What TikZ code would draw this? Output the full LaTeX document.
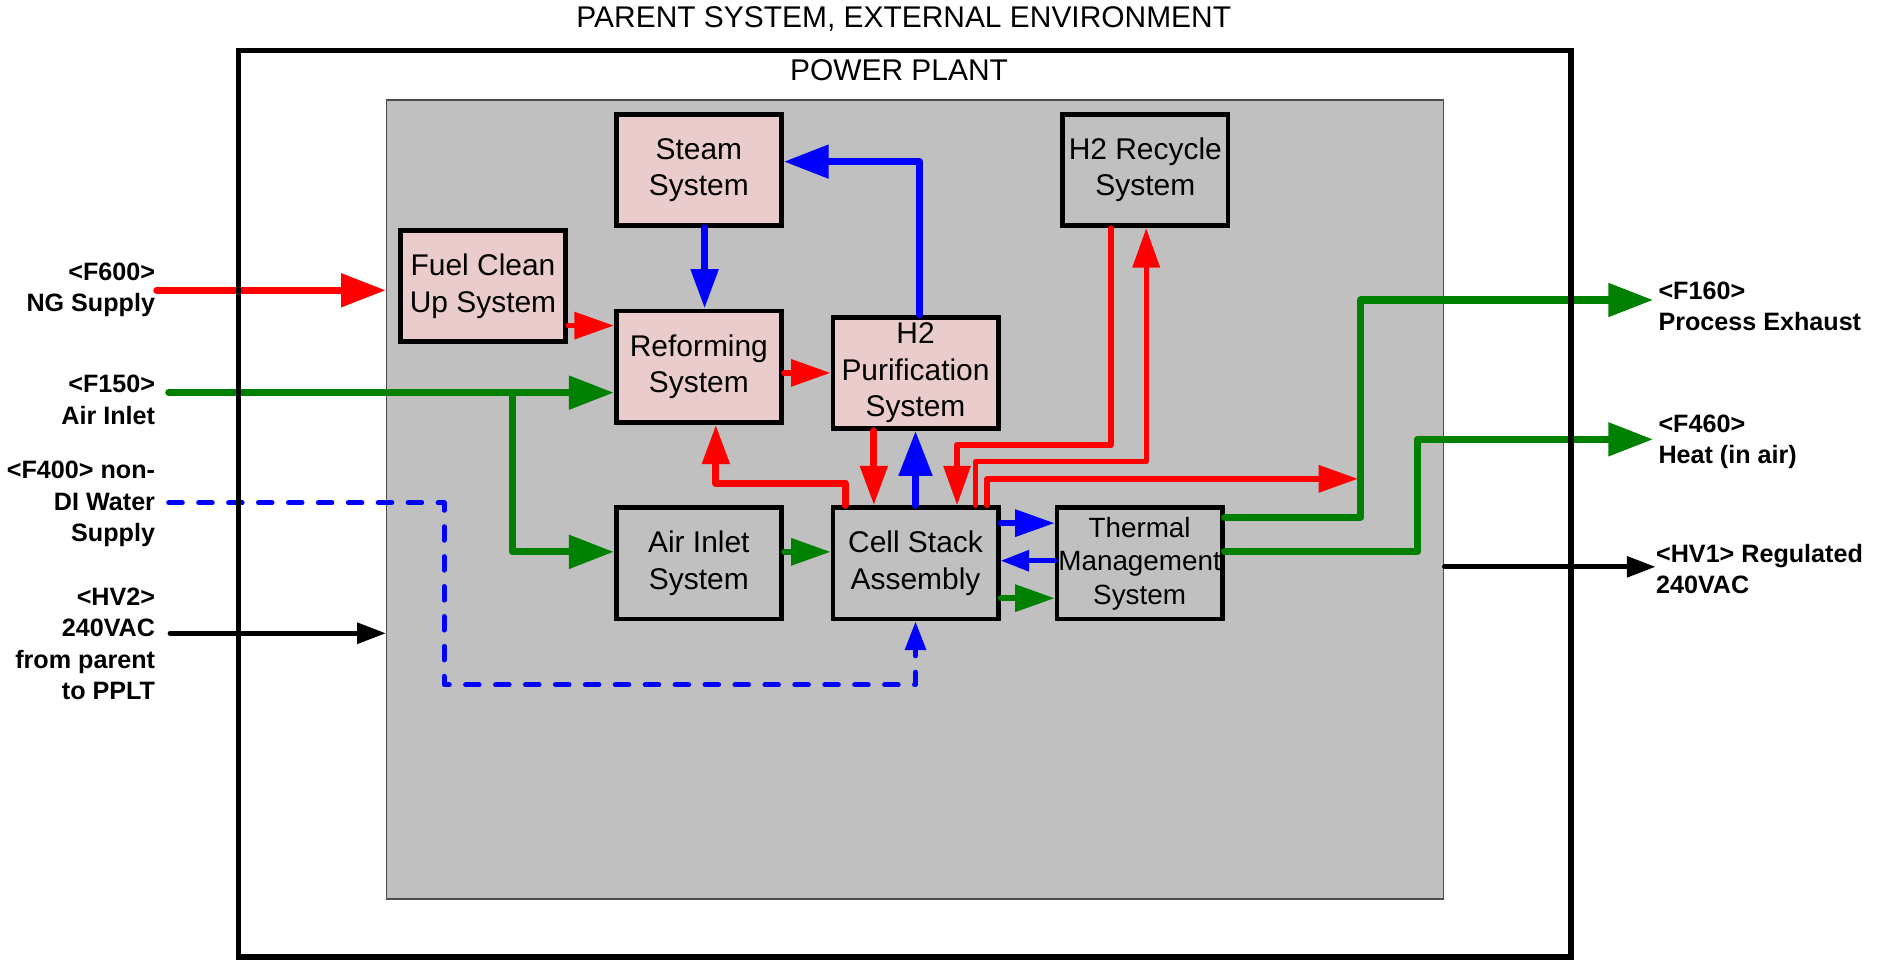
\documentclass[tikz,border=0pt]{standalone}
\usepackage{fontspec}
\setmainfont{Liberation Sans}
\usetikzlibrary{arrows.meta}
\definecolor{pinkfill}{RGB}{235,204,204}
\definecolor{plantgray}{RGB}{192,192,192}
\definecolor{flowgreen}{RGB}{0,128,0}

\begin{document}
\begin{tikzpicture}[x=0.4pt,y=-0.4pt,
    sysbox/.style={draw,line width=1.6pt,minimum width=55.2pt,minimum height=37.2pt,inner sep=0pt,align=center,font=\fontsize{10}{12.2}\selectfont},
    pinkbox/.style={sysbox,fill=pinkfill},
    ext/.style={inner sep=0pt,font=\fontsize{8.4}{10.5}\selectfont\bfseries},
    title/.style={inner sep=0pt,font=\fontsize{10}{12}\selectfont},
    mainflow/.style={line width=2.4pt,line cap=round,line join=round},
    subflow/.style={line width=1.8pt,line cap=round,line join=round},
    waterflow/.style={blue,line width=1.7pt,line cap=round,line join=round,dash pattern=on 4.5pt off 5.5pt},
    power/.style={black,line width=1.6pt,line cap=round},
    bigtip/.style={-{Triangle[length=15pt,width=10.8pt]}},
    midtip/.style={-{Triangle[length=13.2pt,width=8.8pt]}},
    smalltip/.style={-{Triangle[length=9.6pt,width=6.8pt]}}]
  \useasboundingbox (0,0) rectangle (1568,802);
  \node[title] (parenttitle) at (755,16) {PARENT SYSTEM, EXTERNAL ENVIRONMENT};
  \node[title] (planttitle) at (751,59) {POWER PLANT};
  \node[draw=black!70,line width=0.5pt,fill=plantgray,minimum width=353.2pt,minimum height=267pt,inner sep=0pt] (plant) at (764.5,417.25) {};

  \node[pinkbox] (steam) at (583.8,142) {Steam\\System};
  \node[sysbox] (recycle) at (956.8,142) {H2 Recycle\\System};
  \node[pinkbox] (fuel) at (403.5,239) {Fuel Clean\\Up System};
  \node[pinkbox] (reform) at (583.8,306.3) {Reforming\\System};
  \node[pinkbox] (purif) at (764.8,311.5) {H2\\Purification\\System};
  \node[sysbox] (air) at (583.8,470.6) {Air Inlet\\System};
  \node[sysbox] (stack) at (764.8,470.6) {Cell Stack\\Assembly};
  \node[sysbox,font=\fontsize{9.3}{11.2}\selectfont] (thermal) at (952,470.6) {Thermal\\Management\\System};

  \node[ext,anchor=east,align=right] (ng) at (130,242) {<F600>\\NG Supply};
  \node[ext,anchor=east,align=right] (airlbl) at (130,334) {<F150>\\Air Inlet};
  \node[ext,anchor=east,align=right] (water) at (130,421) {<F400> non-\\DI Water\\Supply};
  \node[ext,anchor=east,align=right] (hv2) at (130,538) {<HV2>\\240VAC\\from parent\\to PPLT};
  \node[ext,anchor=west,align=left] (exhaust) at (1385,256) {<F160>\\Process Exhaust};
  \node[ext,anchor=west,align=left] (heat) at (1385,369) {<F460>\\Heat (in air)};
  \node[ext,anchor=west,align=left] (hv1) at (1383,475.5) {<HV1> Regulated\\240VAC};

  \coordinate (ngin) at (131,242.5);
  \coordinate (airin) at (141,328);
  \coordinate (airsplit) at (428,328);
  \coordinate (waterin) at (141,420);
  \coordinate (hvin) at (142,529);
  \coordinate (exhout) at (1381,250.6);
  \coordinate (heatout) at (1381,367);
  \coordinate (hvout) at (1383,473.5);

  \draw[mainflow,red,bigtip] (ngin) -- (ngin -| plant.west);
  \draw[subflow,red,midtip] (fuel.east |- 0,272) -- (reform.west |- 0,272);
  \draw[mainflow,flowgreen,bigtip] (airin) -- (airin -| reform.west);
  \draw[mainflow,flowgreen,bigtip] (airsplit) |- (air.west |- 0,461);
  \draw[waterflow,smalltip] (waterin) -| (371,572) -| (stack.south);
  \draw[power,smalltip] (hvin) -- (hvin -| plant.west);

  \draw[mainflow,blue,midtip] (588.6,0 |- steam.south) -- (588.6,0 |- reform.north);
  \draw[mainflow,blue,bigtip] (768,0 |- purif.north) |- (steam.east |- 0,135);
  \draw[subflow,red,midtip] (reform.east |- purif.west) -- (purif.west);
  \draw[mainflow,red,midtip] (706,0 |- stack.north) -- (706,403.7) -| (598,0 |- reform.south);
  \draw[mainflow,red,midtip] (730,0 |- purif.south) -- (730,0 |- stack.north);
  \draw[mainflow,blue,bigtip] (stack.north) -- (purif.south);
  \draw[subflow,red,midtip] (928,0 |- recycle.south) -- (928,371.8) -| (799.5,0 |- stack.north);
  \draw[subflow,red,midtip] (815,0 |- stack.north) -- (815,385.7) -| (957.5,0 |- recycle.south);
  \draw[subflow,red,midtip] (824.6,0 |- stack.north) |- (1134.5,400);

  \draw[subflow,flowgreen,midtip] (air.east |- 0,461) -- (stack.west |- 0,461);
  \draw[subflow,blue,midtip] (stack.east |- 0,437) -- (thermal.west |- 0,437);
  \draw[subflow,blue,smalltip] (thermal.west |- 0,468.4) -- (stack.east |- 0,468.4);
  \draw[subflow,flowgreen,midtip] (stack.east |- 0,499.7) -- (thermal.west |- 0,499.7);

  \draw[mainflow,flowgreen,bigtip] (thermal.east |- 0,432) -| (1136.7,250.6) -- (exhout);
  \draw[mainflow,flowgreen,bigtip] (thermal.east |- 0,461) -| (1184,367) -- (heatout);
  \draw[power,smalltip] (plant.east |- hvout) -- (hvout);

  \node[draw,line width=1.8pt,minimum width=445.4pt,minimum height=303pt,inner sep=0pt] (parent) at (755.75,420.75) {};
\end{tikzpicture}
\end{document}
